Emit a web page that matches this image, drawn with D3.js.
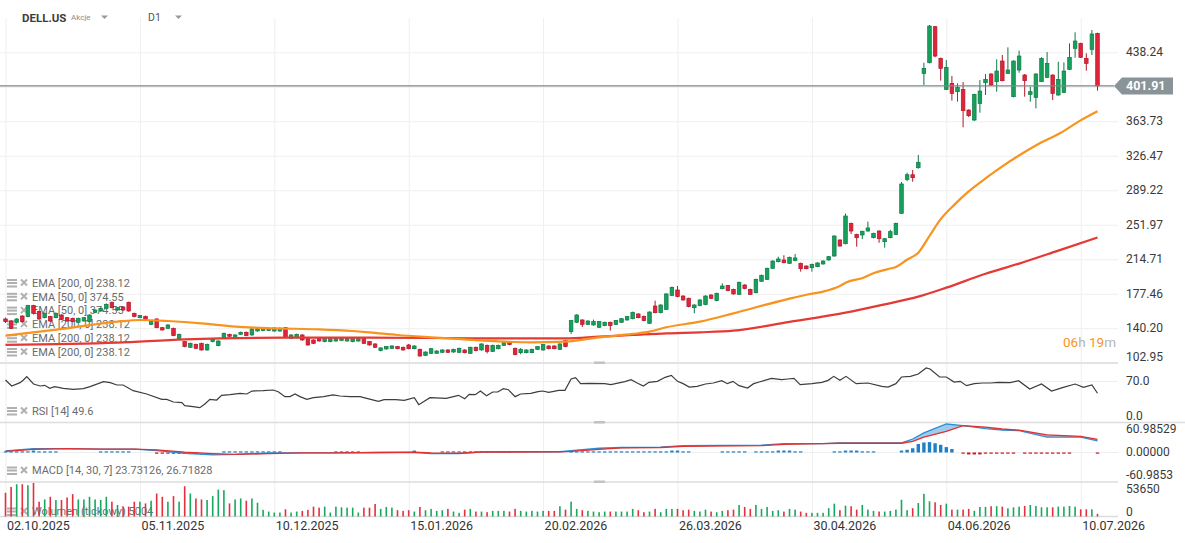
<!DOCTYPE html>
<html>
<head>
<meta charset="utf-8">
<script src="https://cdn.jsdelivr.net/npm/d3@7/dist/d3.min.js"></script>
<style>
  body { margin: 0; background: #fff; font-family: Roboto, "Noto Sans", sans-serif; }
</style>
</head>
<body>
<svg id="chart" width="1185" height="543"></svg>
<script>
// ---- data ----
var dateIdx = [0, 24, 48, 72, 96, 120, 144, 168, 192];
var dateLabels = ["02.10.2025", "05.11.2025", "10.12.2025", "15.01.2026", "20.02.2026",
  "26.03.2026", "30.04.2026", "04.06.2026", "10.07.2026"];

var priceTicks = [102.95, 140.20, 177.46, 214.71, 251.97, 289.22, 326.47, 363.73, 400.98, 438.24];
// 400.98 sits under the last-price tag, so it gets a gridline but no label
var priceLabels = [102.95, 140.20, 177.46, 214.71, 251.97, 289.22, 326.47, 363.73, 438.24];
var lastPrice = 401.91;

// one row per session: open, high, low, close
var ohlc = [
  [150.2,151.6,145.9,147.3],[148.0,148.9,139.4,140.1],[146.6,151.0,145.5,150.2],[153.4,154.2,146.2,147.3],
  [152.7,165.5,152.0,164.6],[164.6,165.5,155.0,156.3],[158.1,159.0,149.2,150.2],[151.6,157.0,150.8,156.3],
  [152.7,153.5,147.0,148.0],[151.6,157.2,151.0,156.3],[154.5,155.3,149.0,149.8],[151.6,152.3,147.3,148.0],
  [150.9,151.6,146.6,147.3],[146.6,151.6,146.0,150.9],[148.0,152.3,147.3,151.6],[147.3,155.2,146.6,154.5],
  [157.4,160.6,156.7,159.9],[158.8,162.4,158.0,161.7],[161.7,167.0,161.0,166.0],[168.2,169.0,161.7,162.4],
  [159.9,163.1,159.2,162.4],[163.1,163.8,159.2,159.9],[168.2,168.9,158.0,158.8],[156.3,157.0,152.0,152.7],
  [151.6,154.5,150.9,153.8],[153.0,153.8,148.8,149.5],[144.4,148.0,143.7,147.3],[150.2,150.9,140.1,140.8],
  [140.8,141.5,137.6,138.3],[140.1,144.4,139.4,143.7],[140.1,140.8,131.5,132.2],[128.6,134.3,127.8,133.6],
  [125.7,126.4,119.6,120.3],[119.6,124.6,118.9,123.9],[122.8,123.5,117.8,118.5],[123.9,124.6,116.0,116.7],
  [116.7,123.5,116.0,122.8],[125.7,129.3,125.0,128.6],[121.4,127.1,120.7,126.4],[130.0,135.4,129.3,134.7],
  [133.6,134.3,130.8,131.5],[129.3,133.6,128.6,132.9],[133.6,136.5,132.9,135.8],[135.8,136.5,131.5,132.2],
  [132.9,140.1,132.2,139.4],[137.2,140.8,136.5,140.1],[137.6,141.2,137.0,140.5],[137.9,140.8,137.2,140.1],
  [137.2,140.8,136.5,140.5],[137.2,141.2,136.5,140.1],[140.8,141.5,129.3,130.0],[129.3,133.6,128.6,132.9],
  [130.0,134.3,129.3,133.6],[132.9,133.6,126.8,127.5],[129.3,130.0,121.4,122.1],[127.5,128.2,123.2,123.9],
  [130.0,130.7,125.7,126.4],[125.7,130.7,125.0,130.0],[125.7,130.0,125.0,129.3],[126.4,130.0,125.7,129.3],
  [127.1,130.0,126.4,129.3],[126.4,130.0,125.7,129.3],[125.7,130.0,125.0,129.3],[126.4,130.7,125.7,130.0],
  [130.0,130.7,123.2,123.9],[125.7,126.4,121.4,122.1],[123.2,123.9,118.9,119.6],[116.0,119.6,115.2,118.9],
  [117.8,121.0,117.1,120.3],[118.5,121.7,117.8,121.0],[120.3,121.0,117.4,118.1],[119.6,120.3,116.0,116.7],
  [122.1,123.2,117.4,118.1],[118.1,121.7,117.4,121.0],[117.4,118.1,109.5,110.2],[110.9,115.2,110.2,114.5],
  [113.1,118.8,112.4,118.1],[113.1,116.3,112.4,115.6],[114.2,117.4,113.5,116.7],[116.7,117.4,113.5,114.2],
  [114.5,118.1,113.8,117.4],[114.2,119.2,113.5,118.5],[116.7,117.4,113.1,113.8],[113.1,120.3,112.4,119.6],
  [119.6,120.3,115.2,116.0],[116.7,123.9,116.0,123.2],[121.7,122.5,113.0,115.2],[115.2,122.5,114.5,121.7],
  [118.1,122.5,117.4,121.7],[121.7,125.3,121.0,124.6],[125.3,126.0,121.7,122.5],[118.5,119.2,111.0,111.7],
  [113.8,118.8,112.0,117.4],[113.8,117.4,113.1,116.7],[113.8,118.1,113.1,117.4],[117.4,121.0,116.7,120.3],
  [116.7,123.2,116.0,122.5],[121.0,121.7,117.4,118.1],[121.0,121.7,117.4,118.1],[117.4,123.9,116.7,123.2],
  [126.8,127.5,119.6,120.3],[136.5,148.8,134.0,148.4],[146.6,155.2,145.9,154.5],[149.1,149.8,141.5,144.4],
  [144.4,148.7,143.7,148.0],[143.7,149.5,143.0,147.3],[141.2,148.0,140.5,147.3],[143.0,147.3,142.3,146.6],
  [146.6,147.3,137.6,143.0],[144.4,149.1,143.7,148.4],[146.6,151.2,145.9,150.5],[149.1,153.4,148.4,152.7],
  [150.5,158.1,149.8,157.4],[155.6,156.3,150.9,151.6],[152.7,154.0,147.7,148.4],[145.5,158.4,144.8,157.7],
  [164.2,170.0,156.3,157.0],[157.0,166.0,156.3,165.3],[160.6,177.9,159.9,177.2],[175.7,185.1,175.0,184.4],
  [181.5,185.8,173.6,174.3],[175.0,175.7,170.0,170.7],[172.5,173.2,162.8,163.5],[162.4,166.0,156.3,165.3],
  [164.6,171.4,163.9,170.7],[165.7,175.7,165.0,175.0],[176.1,176.8,171.8,172.5],[170.0,178.6,169.3,177.9],
  [182.9,188.7,182.2,185.8],[186.2,186.9,180.1,180.8],[182.2,182.9,176.5,177.2],[176.8,190.5,176.1,189.8],
  [186.9,187.6,182.3,183.0],[182.2,182.9,176.1,176.8],[178.6,193.7,177.9,193.0],[190.9,198.1,190.2,197.4],
  [193.0,205.6,192.3,204.9],[204.9,213.5,204.2,212.8],[212.1,217.5,211.4,215.0],[213.9,219.0,210.3,211.0],
  [210.3,217.5,209.6,216.8],[213.2,220.4,212.5,216.1],[210.3,211.0,201.3,204.5],[207.4,208.1,203.8,204.5],
  [205.6,209.9,201.3,209.2],[206.7,211.4,206.0,210.7],[209.6,213.5,208.9,212.8],[213.9,218.2,213.2,217.5],
  [218.2,240.5,217.5,239.8],[235.5,236.2,228.3,229.0],[231.5,264.0,230.8,261.4],[253.5,254.2,242.0,245.2],
  [241.6,242.3,228.3,238.0],[240.9,245.6,236.5,244.9],[245.2,255.3,244.5,248.5],[238.0,243.4,237.3,242.7],
  [245.2,245.9,232.5,236.9],[233.7,237.6,227.2,236.9],[238.0,246.5,237.3,244.5],[241.6,254.2,240.9,253.5],
  [264.3,298.1,263.6,296.0],[301.0,308.2,299.0,306.0],[306.0,311.1,298.5,302.8],[313.6,327.3,312.5,319.4],
  [415.5,427.0,402.9,420.9],[427.0,467.7,426.3,466.6],[465.9,466.6,432.8,434.2],[431.7,432.5,407.6,420.9],
  [398.2,429.9,397.5,422.0],[404.7,412.6,386.0,393.9],[395.7,404.7,384.9,400.4],[398.2,406.1,357.2,375.2],
  [375.9,376.6,368.4,369.8],[365.1,393.5,364.0,392.8],[383.0,408.3,373.0,396.4],[405.4,414.8,392.1,409.0],
  [414.8,415.5,401.8,402.9],[406.5,430.6,395.7,418.0],[428.8,435.3,406.9,407.6],[415.5,443.6,414.8,419.1],
  [390.3,429.5,389.6,428.8],[419.1,440.0,416.2,434.2],[413.7,414.8,390.3,407.6],[392.8,401.1,384.9,395.7],
  [389.6,415.5,377.7,414.8],[406.5,432.8,406.5,431.7],[411.2,438.5,410.5,426.3],[413.7,414.4,386.7,393.9],
  [392.1,428.1,391.4,409.0],[395.0,427.4,394.3,418.0],[419.8,447.9,419.1,432.8],[442.5,459.8,432.4,450.4],
  [447.9,448.6,432.1,432.8],[431.7,437.1,418.4,426.3],[441.4,462.3,435.3,458.0],[458.7,459.4,396.8,401.91]
];

// moving averages, [session, value]
var ema50 = [[0,132.2],[11,140.1],[20,147.3],[24,149.1],[29,148],[35,145.5],[41,141.9],[48,140.1],
  [56,139],[62,137.2],[65,135.8],[70,132.9],[76,130.4],[82,128.2],[88,126],[94,125],[100,125.7],
  [106,130.4],[112,134],[115,136.5],[118,141.2],[124,147.3],[130,156.3],[139.5,171.4],[143.7,177.2],
  [146,179.7],[149,185.8],[150.2,189.8],[153.2,194.8],[155,199.5],[157.4,203.8],[159.1,206.7],
  [160.9,213.9],[163,221.8],[165.1,240.9],[167,258],[169.5,274],[172,288],[175,302],[178,315],
  [182,330.5],[184.7,340],[188.3,350.8],[191.9,364.4],[195,374.55]];
var ema200 = [[0,122.1],[20,124.6],[32,128.2],[50,130],[65,130],[85,129.3],[100,129.3],[106,131.1],
  [112,132.9],[118,134.7],[124,135.8],[130,137.6],[140,147],[150,157],[157,166],[163,174.3],
  [168,184],[175,199],[181,210],[188,224],[195,238.12]];

var rsi = [[0,72.4],[1.1,62.1],[2.6,67.8],[3.2,72.4],[3.8,78.2],[5,65.5],[6.2,62.1],[7,63.2],[7.9,58],
  [8.8,60.9],[10.3,58],[12.1,56.3],[13.9,57.5],[15.1,60.9],[17.5,69.5],[18.7,67.8],[19.9,63.8],[21,63.8],
  [22.8,54],[25.2,48.3],[27.9,39.1],[28.8,39.1],[30,34.5],[31.5,33.3],[32,28.2],[33.5,26.4],[34.7,24.7],
  [35.6,31],[36.5,39.1],[37.7,37.9],[38.6,46],[40.1,47.1],[41.9,49.4],[43.1,48.3],[44,53.4],[46,54],
  [47.8,55.2],[48.7,52.3],[49.9,43.7],[50.8,43.7],[51.7,48.3],[52.6,43.7],[53.8,39.1],[55,42],[56.8,43.7],
  [58.5,46.6],[59.7,44.8],[61.5,43.7],[63.3,43.7],[64.5,40.8],[66.6,35.6],[67.6,38.5],[69.7,38.5],
  [71.2,37.4],[73,42],[73.8,29.9],[75.8,42],[78.7,40.8],[80.9,46],[82,40.2],[82.8,47.7],[83.9,47.1],
  [84.8,53.4],[85.9,45.4],[87,51.7],[87.9,51.7],[88.9,57.5],[89.8,55.7],[91,43.7],[92,48.3],[93.8,49.4],
  [95.1,52.3],[95.9,53.4],[97,51.1],[98.8,54.6],[99.9,54.6],[101,74.1],[101.8,76.4],[102.7,66.1],
  [104.2,66.7],[107,66.1],[108.1,64.4],[110.6,69.5],[111.7,73],[112.8,67.2],[113.9,62.1],[114.9,68.4],
  [116.4,70.1],[117.8,77],[118.9,80.5],[120,70.1],[121,66.1],[122.1,60.3],[123.5,61.5],[125,65.5],
  [126.4,67.2],[127.9,71.3],[128.9,66.1],[129.9,70.1],[131,62.6],[132.5,58.6],[133.6,66.1],[134.6,68.9],
  [136.8,75.3],[138.6,73],[139.7,74.1],[140.8,75.3],[141.9,64.4],[144,66.1],[145.8,68.4],[146.9,71.8],
  [147.9,78.7],[149,71.8],[150.1,78.7],[151.9,66.1],[154,67.2],[156.5,61.5],[157.6,60.3],[159,66.1],
  [160,77.6],[161.6,78.7],[163,82.7],[164.4,93.1],[165.1,91.4],[166.8,77.6],[168,77.6],[169.4,68.9],
  [170.5,70.1],[171.6,62.6],[173,66.1],[174.5,67.2],[175.9,67.2],[177.3,68.4],[179.4,67.8],[180.9,71.3],
  [182.9,56.9],[185,65.5],[186.8,53.4],[188.9,59.8],[191,65.5],[192.5,59.8],[194,63.8],[195,49.6]];

// MACD: [session, macd, signal]
var macd = [[0,4,3],[5,10,8],[11,10,10],[17,9,9],[23,9,9],[27,5,7],[32,-2,1],[37,-6,-3],[41,-5,-5],
  [47,-1,-3],[53,-1,-1],[59,-1,-1],[67,0,0],[73,0,1],[76,-3,-1],[81,-3,-2],[85,2,1],[99,2,2],[101,5,3],
  [106,11,8],[110,13,12],[117,14,13],[121,18,16],[135,19,18],[139,23,21],[146,23,23],[149,25,24],
  [160,25,24],[162,35,29],[164,51,40],[168,74,55],[171,70,70],[175,62,66],[178,58,61],[181,57,58],
  [186,40,46],[192,40,42],[195,30,34]];
var macdHist = [
  3,3,3,3,3,5,3,3,3,3, 0,0,0,0,0,0,0,3,3,3, 3,3,3,0,0,0,0,-3,-3,-3, -3,-3,-3,-3,-3,0,0,0,0,3,
  3,3,3,3,3,3,3,3,3,3, 0,0,0,0,0,0,0,0,0,3, 3,3,3,3,0,0,0,0,0,0, 0,0,0,5,0,0,0,0,3,3,
  3,3,3,3,3,3,3,3,3,3, 3,0,0,0,0,0,0,0,0,0, 0,3,3,3,3,3,3,3,3,3, 3,3,3,3,3,3,3,3,3,5,
  5,3,3,0,0,0,0,0,3,3, 3,3,3,0,3,3,3,3,5,5, 5,3,3,0,0,0,0,0,3,3, 5,5,5,3,3,3,0,0,0,0,
  5,7,11,22,26,27,24,20,14,9, 0,-3,-5,-5,-5,-3,-3,-3,-3,-3, -3,0,-3,-3,-3,-3,-3,-3,-3,-3,
  -3,0,0,0,0,-3];

var volume = [
  45400,56700,61800,61800,59900,64300,28400,32700,37800,31600,
  31600,36500,42900,32700,32700,37800,32700,31600,37800,28400,
  22100,18900,18900,28400,28400,25100,30200,44000,37800,28400,
  39100,28400,58000,44000,34600,32700,31600,39100,51600,50500,
  25100,32700,34600,30200,34600,26500,12700,9450,7560,7560,
  13800,7560,9450,10800,12700,18900,17000,18900,7560,18900,
  17600,17000,17000,7560,17000,17000,24000,14600,18300,17000,
  12100,10800,12100,9450,18300,12100,14600,10800,12100,14600,
  9450,7000,13200,14600,9450,9450,8300,10800,10800,10800,
  9450,14600,10800,9450,10800,9450,10800,10800,10800,19700,
  13200,28400,14600,12100,10800,9450,8300,9450,9450,9450,
  9450,9450,14600,12100,8300,9450,14600,8300,14600,14600,
  14600,12100,13200,10800,9450,13200,9450,8300,10800,12100,
  13200,22100,18300,14600,22100,14600,18300,10800,12100,9450,
  14600,13200,9450,7000,7000,7000,7000,15900,24600,12100,
  20800,19700,13200,22100,13200,10800,9450,9450,10800,13200,
  32100,12100,15900,25900,43500,29100,27200,22100,24600,13200,
  13200,13200,14600,10800,18300,18300,19700,19700,18900,15700,
  17600,18900,20200,22100,20200,17600,17600,17600,18900,18900,
  20200,18900,13800,13800,13800,5004];

var legendPrice = ["EMA [200, 0] 238.12", "EMA [50, 0] 374.55", "EMA [50, 0] 374.55",
  "EMA [200, 0] 238.12", "EMA [200, 0] 238.12", "EMA [200, 0] 238.12"];

// ---- scales ----
var svg = d3.select('#chart');
var plotRight = 1118;
var x = d3.scaleLinear().domain([0, 195]).range([5.5, 1097.5]);
var yPrice = d3.scaleLinear().domain([102.95, 438.24]).range([362.7, 52.3]);
var yRsi = d3.scaleLinear().domain([0, 100]).range([422, 364]);
var yMacd = d3.scaleLinear().domain([-76.6, 76.6]).range([482, 423]);
var yVol = d3.scaleLinear().domain([0, 53650]).range([516.5, 488.5]);

var GREEN = '#16a05c', GREEN_D = '#0c7a43', RED = '#e0243a', RED_D = '#b3172a';

// ---- grid ----
svg.append('g')
  .attr('transform', 'translate(0,516.5)')
  .call(d3.axisBottom(x).tickValues(dateIdx).tickSize(-498.5).tickFormat(''))
  .call(function(g) { g.select('.domain').remove(); })
  .selectAll('line').attr('stroke', '#efefef');

svg.append('g')
  .call(d3.axisRight(yPrice).tickValues(priceTicks).tickSize(plotRight).tickFormat(''))
  .call(function(g) { g.select('.domain').remove(); })
  .selectAll('line').attr('stroke', '#efefef');

svg.append('line').attr('x1', 0).attr('x2', plotRight)
  .attr('y1', yRsi(70)).attr('y2', yRsi(70)).attr('stroke', '#efefef');
svg.append('line').attr('x1', 0).attr('x2', plotRight)
  .attr('y1', yMacd(0)).attr('y2', yMacd(0)).attr('stroke', '#eeeeee');

// panel separators + drag handles
[[363, plotRight], [422.5, 1185], [482, plotRight], [516.5, plotRight]].forEach(function(s) {
  svg.append('line').attr('x1', 0).attr('x2', s[1]).attr('y1', s[0]).attr('y2', s[0])
    .attr('stroke', '#dcdcdc').attr('stroke-width', 1.5);
});
[362.5, 422, 481.5].forEach(function(yy) {
  svg.append('rect').attr('x', 594).attr('y', yy - 1).attr('width', 11).attr('height', 2.5)
    .attr('fill', '#c2c2c2');
});

// ---- legends (drawn below the marks) ----
function legendRow(yy, label) {
  var g = svg.append('g').attr('transform', 'translate(7,' + yy + ')');
  g.append('rect').attr('x', 0).attr('y', -4).attr('width', 10).attr('height', 2).attr('fill', '#b0b0b0');
  g.append('rect').attr('x', 0).attr('y', -1).attr('width', 10).attr('height', 2).attr('fill', '#b0b0b0');
  g.append('rect').attr('x', 0).attr('y', 2.5).attr('width', 10).attr('height', 2).attr('fill', '#b0b0b0');
  g.append('path').attr('d', 'M14,-3.5 L20,2.5 M20,-3.5 L14,2.5')
    .attr('stroke', '#b0b0b0').attr('stroke-width', 2);
  g.append('text').attr('x', 25).attr('dy', '0.35em').attr('font-size', 11)
    .attr('fill', '#6b6b6b').text(label);
}
legendPrice.forEach(function(t, i) { legendRow(283 + i * 13.8, t); });
legendRow(411, 'RSI [14] 49.6');
legendRow(470.5, 'MACD [14, 30, 7] 23.73126, 26.71828');
legendRow(511.5, 'Wolumen (tickowy) 5004');

// ---- candles ----
var candles = svg.append('g');
candles.selectAll('line').data(ohlc).join('line')
  .attr('x1', function(d, i) { return x(i); }).attr('x2', function(d, i) { return x(i); })
  .attr('y1', function(d) { return yPrice(d[1]); }).attr('y2', function(d) { return yPrice(d[2]); })
  .attr('stroke', function(d) { return d[3] >= d[0] ? GREEN_D : RED_D; }).attr('stroke-width', 1);
candles.selectAll('rect').data(ohlc).join('rect')
  .attr('x', function(d, i) { return x(i) - 1.8; }).attr('width', 3.6)
  .attr('y', function(d) { return yPrice(Math.max(d[0], d[3])); })
  .attr('height', function(d) { return Math.max(1, Math.abs(yPrice(d[0]) - yPrice(d[3]))); })
  .attr('fill', function(d) { return d[3] >= d[0] ? GREEN : RED; })
  .attr('stroke', function(d) { return d[3] >= d[0] ? GREEN_D : RED_D; }).attr('stroke-width', 0.7);

// EMAs
var emaLine = d3.line().curve(d3.curveMonotoneX)
  .x(function(d) { return x(d[0]); }).y(function(d) { return yPrice(d[1]); });
svg.append('path').datum(ema200).attr('d', emaLine).attr('fill', 'none')
  .attr('stroke', '#e53935').attr('stroke-width', 2.2);
svg.append('path').datum(ema50).attr('d', emaLine).attr('fill', 'none')
  .attr('stroke', '#f7931e').attr('stroke-width', 2.2);

// last price line
var yLast = yPrice(lastPrice);
svg.append('line').attr('x1', 0).attr('x2', 1114).attr('y1', yLast).attr('y2', yLast)
  .attr('stroke', '#7d878c').attr('stroke-width', 1.2);

// ---- RSI ----
svg.append('path').datum(rsi)
  .attr('d', d3.line().x(function(d) { return x(d[0]); }).y(function(d) { return yRsi(d[1]); }))
  .attr('fill', 'none').attr('stroke', '#3d3d3d').attr('stroke-width', 1.2);

// ---- MACD ----
var defs = svg.append('defs');
defs.append('clipPath').attr('id', 'aboveSig').append('path').datum(macd)
  .attr('d', d3.area().x(function(d) { return x(d[0]); }).y0(0).y1(function(d) { return yMacd(d[2]); }));
defs.append('clipPath').attr('id', 'belowSig').append('path').datum(macd)
  .attr('d', d3.area().x(function(d) { return x(d[0]); }).y0(543).y1(function(d) { return yMacd(d[2]); }));
var between = d3.area().x(function(d) { return x(d[0]); })
  .y0(function(d) { return yMacd(d[1]); }).y1(function(d) { return yMacd(d[2]); });
svg.append('path').datum(macd).attr('d', between).attr('clip-path', 'url(#aboveSig)')
  .attr('fill', 'rgba(43,143,214,0.45)');
svg.append('path').datum(macd).attr('d', between).attr('clip-path', 'url(#belowSig)')
  .attr('fill', 'rgba(226,60,60,0.45)');

var histPts = macdHist.map(function(v, i) { return [i, v]; }).filter(function(d) { return d[1] !== 0; });
svg.append('g').selectAll('rect').data(histPts).join('rect')
  .attr('x', function(d) { return x(d[0]) - 1.7; }).attr('width', 3.4)
  .attr('y', function(d) { return d[1] > 0 ? yMacd(d[1]) : yMacd(0); })
  .attr('height', function(d) { return Math.max(1.2, Math.abs(yMacd(d[1]) - yMacd(0))); })
  .attr('fill', function(d) { return d[1] > 0 ? '#1f7fc8' : '#d4101e'; });

var macdLine = d3.line().x(function(d) { return x(d[0]); }).y(function(d) { return yMacd(d[1]); });
var sigLine = d3.line().x(function(d) { return x(d[0]); }).y(function(d) { return yMacd(d[2]); });
svg.append('path').datum(macd).attr('d', macdLine).attr('fill', 'none')
  .attr('stroke', '#2b8fd6').attr('stroke-width', 1.3);
svg.append('path').datum(macd).attr('d', sigLine).attr('fill', 'none')
  .attr('stroke', '#e0302f').attr('stroke-width', 1.3);

// ---- volume ----
svg.append('g').selectAll('rect').data(volume).join('rect')
  .attr('x', function(d, i) { return x(i) - 0.8; }).attr('width', 1.6)
  .attr('y', function(d) { return yVol(d); })
  .attr('height', function(d) { return yVol(0) - yVol(d); })
  .attr('fill', function(d, i) { return ohlc[i][3] >= ohlc[i][0] ? '#19a862' : '#e3303f'; });

// ---- right axes ----
function rightAxis(scale, values, fmt, clampTop, clampBottom) {
  var g = svg.append('g').attr('transform', 'translate(1123,0)')
    .call(d3.axisRight(scale).tickValues(values).tickSize(0).tickPadding(3).tickFormat(fmt));
  g.select('.domain').remove();
  g.selectAll('text').attr('font-size', 12).attr('fill', '#3a3a3a')
    .attr('font-family', 'Roboto, sans-serif');
  g.selectAll('.tick').attr('transform', function(d) {
    var yy = Math.max(clampTop, Math.min(clampBottom, scale(d)));
    return 'translate(0,' + yy + ')';
  });
  return g;
}
rightAxis(yPrice, priceLabels, d3.format('.2f'), 24, 357.5);
rightAxis(yRsi, [0, 70], d3.format('.1f'), 368, 416);
rightAxis(yMacd, [-60.9853, 0, 60.98529], function(d) {
  return d === 0 ? '0.00000' : (d > 0 ? d.toFixed(5) : d.toFixed(4));
}, 429, 475.5);
rightAxis(yVol, [0, 53650], d3.format('d'), 489.5, 512.5);

// price tag
svg.append('path')
  .attr('d', 'M1114,' + yLast + ' L1122,' + (yLast - 8.5) + ' L1173,' + (yLast - 8.5) +
    ' L1173,' + (yLast + 8.5) + ' L1122,' + (yLast + 8.5) + ' Z')
  .attr('fill', '#8a9397');
svg.append('text').attr('x', 1126).attr('y', yLast).attr('dy', '0.36em')
  .attr('font-size', 12.5).attr('font-weight', 'bold').attr('fill', '#fff').text(lastPrice.toFixed(2));

// countdown to close
var cd = svg.append('text').attr('x', 1063).attr('y', 342).attr('dy', '0.36em').attr('font-size', 13.5);
cd.append('tspan').attr('fill', '#f7931e').text('06');
cd.append('tspan').attr('fill', '#b5b5b5').text('h ');
cd.append('tspan').attr('fill', '#f7931e').text('19');
cd.append('tspan').attr('fill', '#b5b5b5').text('m');

// ---- date axis ----
var xa = svg.append('g').attr('transform', 'translate(0,518)')
  .call(d3.axisBottom(x).tickValues(dateIdx).tickSize(0).tickPadding(0)
    .tickFormat(function(d, i) { return dateLabels[i]; }));
xa.select('.domain').remove();
xa.selectAll('text').attr('text-anchor', 'start').attr('dx', 1).attr('dy', '0.95em')
  .attr('font-size', 12.5).attr('fill', '#333').attr('font-family', 'Roboto, sans-serif');

// ---- header ----
var hdr = svg.append('g');
hdr.append('text').attr('x', 22).attr('y', 17.5).attr('dy', '0.36em').attr('font-size', 11.5)
  .attr('font-weight', 'bold').attr('fill', '#3c3c3c').text('DELL.US');
hdr.append('text').attr('x', 71).attr('y', 17.5).attr('dy', '0.36em').attr('font-size', 8)
  .attr('fill', '#8c8c8c').text('Akcje');
hdr.append('text').attr('x', 148).attr('y', 17.5).attr('dy', '0.36em').attr('font-size', 10.5)
  .attr('fill', '#555').text('D1');
[[101, 15.5], [175, 15.5]].forEach(function(p) {
  hdr.append('path').attr('d', 'M' + p[0] + ',' + p[1] + ' l7,0 l-3.5,3.5 z').attr('fill', '#9a9a9a');
});
</script>
</body>
</html>
